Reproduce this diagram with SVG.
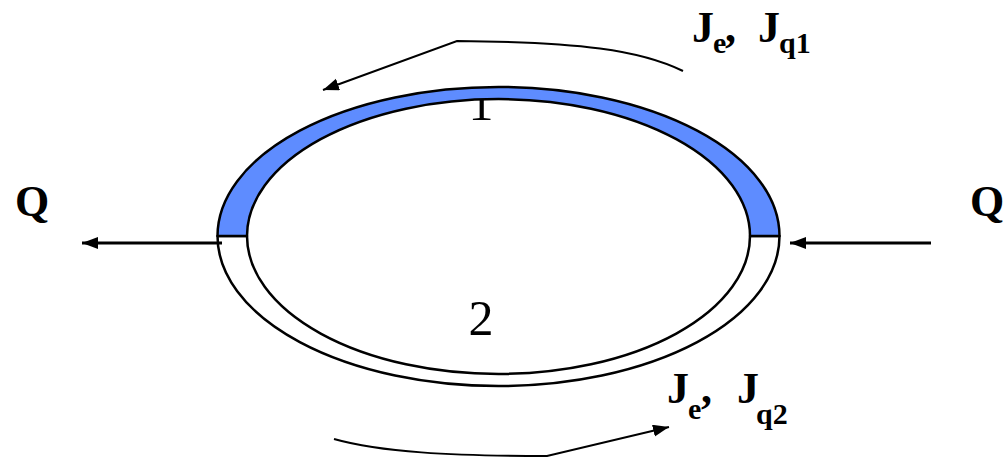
<svg xmlns="http://www.w3.org/2000/svg" width="1005" height="458" viewBox="0 0 1005 458">
  <defs>
    <marker id="ah" markerUnits="userSpaceOnUse" markerWidth="18" markerHeight="14" refX="16" refY="6" orient="auto">
      <path d="M0,0 L16,6 L0,12 Z" fill="#000"/>
    </marker>
    <style>
      .band { stroke: #000; stroke-width: 2.5; stroke-linejoin: round; }
      .num { font-family: "Liberation Serif", "Times New Roman", serif; font-size: 50px; fill: #000; }
      .lbl { font-family: "Liberation Serif", "Times New Roman", serif; font-weight: bold; font-size: 44px; fill: #000; }
      .sub { font-size: 30px; }
      .conn { fill: none; stroke: #000; }
    </style>
  </defs>
  <rect width="1005" height="458" fill="#fff"/>

  <g id="label-1"><text class="num" x="481" y="120" text-anchor="middle">1</text></g>

  <g id="leg-2">
    <path class="band" fill="#ffffff" d="M217.5,236 A281,150 0 0 0 779.5,236 L750,236 A251.5,138 0 0 1 247,236 Z"/>
  </g>
  <g id="leg-1">
    <path class="band" fill="#5e8cff" d="M217.5,236 A281,149 0 0 1 779.5,236 L750,236 A251.5,137 0 0 0 247,236 Z"/>
  </g>

  <g id="label-2"><text class="num" x="481" y="335" text-anchor="middle">2</text></g>

  <g id="connectors">
    <line class="conn" x1="222" y1="243" x2="82" y2="243" stroke-width="3" marker-end="url(#ah)"/>
    <line class="conn" x1="931" y1="243" x2="790" y2="243" stroke-width="3" marker-end="url(#ah)"/>
    <path class="conn" d="M683,71 C640,50 580,42 457,41 L323,90" stroke-width="2" marker-end="url(#ah)"/>
    <path class="conn" d="M334,439 C380,452 450,456 547,456 L669,427" stroke-width="2" marker-end="url(#ah)"/>
  </g>

  <g id="Q-out"><text class="lbl" x="15" y="216" font-size="46">Q</text></g>
  <g id="Q-in"><text class="lbl" x="970" y="216" font-size="46">Q</text></g>

  <g id="flux-1">
    <text class="lbl"><tspan x="692" y="42">J</tspan><tspan class="sub" x="713" y="53">e</tspan><tspan x="725" y="42">,</tspan><tspan x="758" y="42">J</tspan><tspan class="sub" x="779" y="53">q1</tspan></text>
  </g>
  <g id="flux-2">
    <text class="lbl"><tspan x="667" y="403">J</tspan><tspan class="sub" x="688" y="419">e</tspan><tspan x="701" y="403">,</tspan><tspan x="737" y="403">J</tspan><tspan class="sub" x="756" y="424">q2</tspan></text>
  </g>
</svg>
